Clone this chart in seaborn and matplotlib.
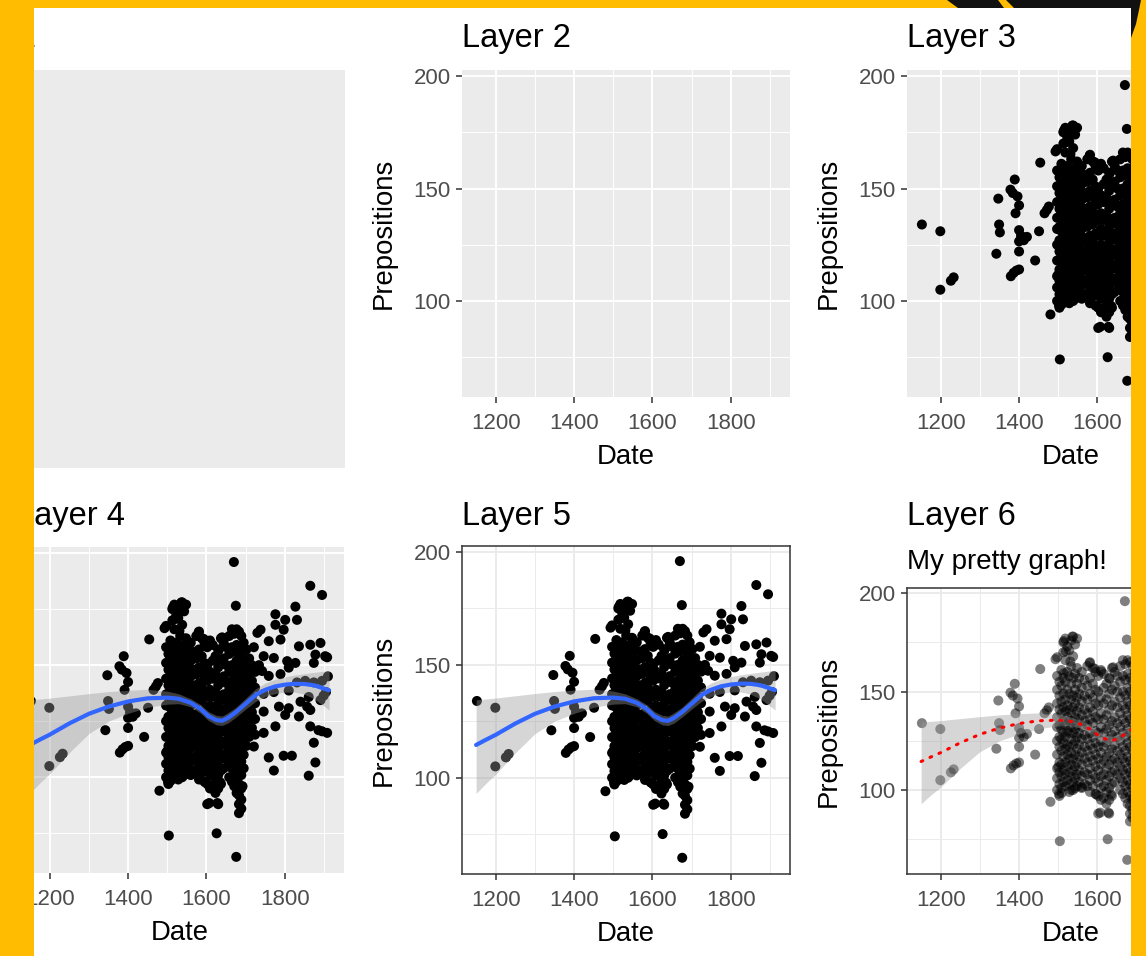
import numpy as np
import pandas as pd
import matplotlib.pyplot as plt
import seaborn as sns
from matplotlib.patches import Rectangle, Polygon

# %% ---------------------------------------------------------------
#    DATA
# ------------------------------------------------------------------
# sparse early texts, before the main block
left_dates = [1152, 1199, 1199, 1226, 1233, 1342, 1347, 1349, 1351, 1378, 1384, 1389, 1396, 1400,
              1391, 1400, 1405, 1412, 1420, 1400, 1400, 1379, 1386, 1393, 1400, 1441, 1451, 1454,
              1465, 1471, 1476, 1480]
left_preps = [134, 131, 105, 109, 110.5, 121, 145.5, 134, 130.5, 149.5, 148, 154, 146.5, 142.5,
              139, 131.5, 129, 127, 128.5, 126.5, 122, 111, 112.5, 113.5, 114, 118, 131, 161.5,
              139, 140.5, 142, 94]

# dense block 1495-1725, one column of values per date
dense_dates = [1497, 1503, 1508, 1513, 1518, 1523, 1528, 1533, 1538, 1543, 1548, 1553, 1560,
               1567, 1574, 1581, 1588, 1595, 1602, 1609, 1616, 1623, 1630, 1637, 1644, 1651,
               1658, 1665, 1671, 1677, 1683, 1689, 1695, 1702, 1709, 1716, 1724]
dense_preps = [
    [158, 151, 144, 137, 132, 125, 118, 111, 106, 100],
    [155, 148, 141, 133, 127, 122, 114, 109, 103, 97],
    [161, 153, 145, 139, 131, 126, 120, 113, 107, 101],
    [175, 170, 157, 149, 142, 135, 129, 124, 117, 110, 104],
    [177, 166, 155, 146, 140, 133, 127, 121, 114, 108, 102],
    [173, 160, 151, 143, 137, 130, 123, 118, 112, 105],
    [171, 158, 149, 141, 135, 129, 122, 116, 109, 103, 99],
    [176, 163, 154, 146, 139, 132, 126, 119, 113, 107, 100],
    [178, 168, 157, 148, 142, 135, 129, 123, 116, 110, 104],
    [174, 159, 151, 144, 137, 131, 125, 118, 112, 106, 101],
    [177, 162, 154, 147, 140, 133, 127, 121, 114, 108, 102],
    [157, 149, 142, 136, 129, 123, 117, 110, 104],
    [160, 152, 145, 138, 132, 126, 119, 113, 107, 101],
    [156, 148, 141, 135, 128, 122, 116, 109, 103],
    [163, 153, 146, 139, 133, 126, 120, 114, 108, 102],
    [165, 157, 149, 142, 136, 129, 123, 117, 111, 105, 99],
    [162, 154, 147, 140, 134, 127, 121, 115, 108, 102],
    [160, 151, 144, 137, 130, 124, 118, 112, 106, 98],
    [158, 150, 143, 136, 129, 122, 116, 110, 104, 97, 88],
    [161, 147, 139, 132, 125, 119, 113, 107, 101, 95],
    [159, 152, 144, 136, 129, 122, 115, 108, 102, 96],
    [154, 146, 138, 131, 124, 117, 111, 105, 99, 93],
    [157, 149, 141, 133, 126, 119, 113, 107, 101, 95, 88],
    [162, 151, 143, 135, 128, 121, 115, 109, 103, 97],
    [160, 153, 145, 137, 130, 123, 116, 110, 104],
    [158, 150, 142, 134, 127, 120, 114, 108],
    [163, 155, 147, 139, 132, 125, 118, 112, 106, 100],
    [166, 158, 150, 143, 136, 129, 122, 116, 110, 104, 98],
    [164, 156, 148, 141, 134, 127, 120, 114, 108, 102, 96],
    [166, 159, 152, 145, 138, 131, 124, 117, 111, 105, 99, 93],
    [165, 157, 150, 143, 136, 129, 122, 115, 109, 103, 97, 92, 88, 84],
    [163, 155, 148, 141, 134, 127, 120, 113, 107, 101, 95, 90, 86],
    [160, 152, 145, 138, 131, 124, 117, 110, 104],
    [157, 149, 142, 135, 128, 121, 114],
    [153, 146, 139, 132, 125, 118],
    [150, 143, 136, 129, 122],
    [147, 140, 133, 126, 119],
]

# outliers around the dense block
extra_dates = [1502, 1504, 1509, 1500, 1497, 1493, 1514, 1536, 1519, 1531, 1514, 1580, 1593,
               1610, 1640, 1631, 1607, 1628, 1626, 1670, 1675, 1676, 1538, 1560, 1597, 1635]
extra_preps = [98, 74, 98.5, 111.7, 167.5, 166.5, 175.7, 178, 170.5, 165.3, 159.4, 164.6, 161.7,
               160.2, 162.4, 156.6, 88.5, 88.5, 75, 196, 176.5, 64.5, 100, 101.5, 97.8, 97.8]

# later texts, after 1705
right_dates = [1865, 1895, 1827, 1776, 1801, 1831, 1797, 1776, 1738, 1730,
               1759, 1789, 1836, 1865, 1891, 1903, 1878, 1874,
               1746, 1772, 1806, 1827, 1742, 1759, 1789, 1810,
               1746, 1772, 1810, 1831, 1852, 1874, 1895, 1899,
               1785, 1810, 1840, 1857, 1746, 1801, 1836, 1776, 1865, 1895, 1908, 1874, 1746,
               1712, 1759, 1797, 1818,
               1772, 1878, 1861, 1717, 1713, 1721, 1692, 1721, 1734, 1910, 1905, 1886, 1891,
               1865, 1861, 1908]
right_preps = [185.4, 181.3, 176.1, 172.7, 170.2, 170.2, 165.8, 168, 165.8, 164.4,
               160.7, 161.4, 158.4, 159.1, 159.9, 154, 154.7, 151,
               154, 153.2, 151.8, 151, 147.4, 145.2, 146, 148.9,
               137.2, 138, 138.7, 142.3, 143, 142.3, 143, 136.4,
               131.5, 130.8, 133.7, 131.5, 129.3, 127.8, 127.1, 122.7, 122.7, 120.5, 119.8, 115.4,
               119.8, 122, 108.8, 109.6, 109.6,
               103, 106.6, 100.7, 140.3, 131.4, 113.7, 96, 158, 150, 145, 138, 121, 134.4,
               130, 135.8, 153.5]

# loess smoother and its confidence band
smooth_date = [1150, 1175, 1200, 1250, 1300, 1350, 1400, 1450, 1500, 1530, 1560, 1585, 1605,
               1625, 1640, 1655, 1675, 1700, 1725, 1750, 1775, 1800, 1825, 1850, 1875, 1913]
smooth_fit = [114.5, 116.8, 119, 124, 128.3, 131.5, 133.8, 135.2, 135.5, 135, 133.2, 130.5, 127.3,
              125.5, 125.2, 126.5, 129, 132.8, 136.6, 139, 140.5, 141.3, 141.7, 141.6, 141, 138.8]
smooth_lo = [93, 97.5, 101.5, 111, 119.5, 125, 128.5, 131.2, 132.6, 132.8, 131.4, 128.6, 125.3,
             123.4, 123.1, 124.2, 126.8, 130.4, 133.8, 136, 137.3, 138, 138, 137, 135, 130]
smooth_hi = [134.5, 134.9, 135.3, 136.3, 137.3, 138.2, 138.8, 139.2, 138.4, 137.2, 135, 132.4,
             129.3, 127.6, 127.3, 128.8, 131.2, 135.2, 139.4, 142, 143.7, 144.8, 145.6, 146.2,
             146.8, 147.6]

x_major = [1200, 1400, 1600, 1800]
x_minor = [1300, 1500, 1700, 1900]
y_major = [100, 150, 200]
y_minor = [75, 125, 175]

rows = [pd.DataFrame({"Date": left_dates, "Prepositions": left_preps}),
        pd.DataFrame({"Date": extra_dates, "Prepositions": extra_preps}),
        pd.DataFrame({"Date": right_dates, "Prepositions": right_preps})]
for d, col in zip(dense_dates, dense_preps):
    rows.append(pd.DataFrame({"Date": [d] * len(col), "Prepositions": col}))
df = pd.concat(rows, ignore_index=True)
smooth = pd.DataFrame({"Date": smooth_date, "fit": smooth_fit, "lo": smooth_lo, "hi": smooth_hi})

# %% ---------------------------------------------------------------
#    LAYOUT (pixel positions of the screenshot)
# ------------------------------------------------------------------
W, H = 1146, 956
XLIM = (1114, 1951)
YLIM = (57.3, 202.7)
YELLOW = '#FFBC00'


def box(l, t, r, b):
    return [l / W, 1 - b / H, (r - l) / W, (b - t) / H]


def px(x, y):
    return x / W, 1 - y / H


sns.set_theme(style='white')
plt.rcParams['font.family'] = ['Liberation Sans', 'DejaVu Sans']

fig = plt.figure(figsize=(W / 100, H / 100), dpi=100, facecolor=YELLOW)
fig.add_artist(Rectangle(px(34, 956), (1131 - 34) / W, (956 - 8) / H, transform=fig.transFigure,
                         facecolor='white', edgecolor='none', zorder=-5))


def style_axes(ax, theme, w_px, h_px):
    ax.set_xlim(XLIM)
    ax.set_ylim(YLIM)
    ax.set_xticks(x_major)
    ax.set_xticks(x_minor, minor=True)
    ax.set_yticks(y_major)
    ax.set_yticks(y_minor, minor=True)
    if theme == 'grey':
        ax.set_facecolor('#EBEBEB')
        gcol = 'white'
        for s in ax.spines.values():
            s.set_visible(False)
    else:
        ax.set_facecolor('white')
        gcol = '#EBEBEB'
        for s in ax.spines.values():
            s.set_visible(True)
            s.set_color('#333333')
            s.set_linewidth(1.1)
    ax.grid(which='major', color=gcol, linewidth=1.4)
    ax.grid(which='minor', color=gcol, linewidth=0.7)
    ax.set_axisbelow(True)
    ax.tick_params(which='major', length=4.5, width=1.1, color='#333333',
                   labelcolor='#4D4D4D', labelsize=16, left=True, bottom=True)
    ax.tick_params(axis='x', pad=7)
    ax.tick_params(axis='y', pad=3.5)
    ax.tick_params(which='minor', length=0)
    ax.set_xlabel('Date', fontsize=19.8, color='black')
    ax.set_ylabel('Prepositions', fontsize=19.8, color='black')
    ax.xaxis.set_label_coords(0.5, -47 / h_px)
    ax.yaxis.set_label_coords(-65 / w_px, 0.5)


def add_points(ax, alpha=1.0):
    sns.scatterplot(data=df, x='Date', y='Prepositions', ax=ax, color='black', s=52,
                    edgecolor='none', linewidth=0, alpha=alpha, legend=False, zorder=2)


def add_smooth(ax, color, dotted=False):
    ax.fill_between(smooth['Date'], smooth['lo'], smooth['hi'], color='#999999', alpha=0.4,
                    linewidth=0, zorder=3)
    if dotted:
        sns.lineplot(data=smooth, x='Date', y='fit', ax=ax, color=color, linewidth=2.2,
                     errorbar=None, zorder=4, linestyle=(0, (0.6, 2.6)),
                     dash_capstyle='round')
    else:
        sns.lineplot(data=smooth, x='Date', y='fit', ax=ax, color=color, linewidth=3,
                     errorbar=None, zorder=4)


# Layer 1: empty grey canvas
ax1 = fig.add_axes(box(-73, 70, 345, 468))
ax1.set_facecolor('#EBEBEB')
ax1.set_xticks([])
ax1.set_yticks([])
for s in ax1.spines.values():
    s.set_visible(False)

# Layer 2: axes only
ax2 = fig.add_axes(box(462, 70, 790, 397))
style_axes(ax2, 'grey', 328, 327)

# Layer 3: points
ax3 = fig.add_axes(box(907, 70, 1235, 397))
add_points(ax3)
style_axes(ax3, 'grey', 328, 327)

# Layer 4: points + smoother
ax4 = fig.add_axes(box(16, 547, 344, 873))
add_points(ax4)
add_smooth(ax4, '#3366FF')
style_axes(ax4, 'grey', 328, 326)

# Layer 5: theme_bw
ax5 = fig.add_axes(box(462, 546, 790, 874))
add_points(ax5)
add_smooth(ax5, '#3366FF')
style_axes(ax5, 'bw', 328, 328)

# Layer 6: translucent points, dotted red smoother, subtitle
ax6 = fig.add_axes(box(907, 588, 1235, 874))
add_points(ax6, alpha=0.5)
add_smooth(ax6, '#FF0000', dotted=True)
style_axes(ax6, 'bw', 328, 286)

titles = [("Layer 1", -73, 47), ("Layer 2", 462, 47), ("Layer 3", 907, 47),
          ("Layer 4", 16, 525), ("Layer 5", 462, 525), ("Layer 6", 907, 525)]
for txt, x, y in titles:
    fig.text(*px(x, y), txt, fontsize=23.5, ha='left', va='baseline', color='black')
fig.text(*px(907, 569), "My pretty graph!", fontsize=20, ha='left', va='baseline', color='black')

# yellow frame around the screenshot
for (x0, y0, w, h) in [(0, 0, 34, 956), (0, 0, 1146, 8), (1131, 0, 15, 956)]:
    fig.add_artist(Rectangle(px(x0, y0 + h), w / W, h / H, transform=fig.transFigure,
                             facecolor=YELLOW, edgecolor='none', zorder=5))
for pts in [[(947, 0), (998, 0), (1004, 8), (958, 8)],
            [(1006, 0), (1141, 0), (1139, 10), (1136, 24), (1131, 38), (1131, 8), (1014, 8)]]:
    fig.add_artist(Polygon([px(x, y) for x, y in pts], closed=True, transform=fig.transFigure,
                           facecolor='#111111', edgecolor='none', zorder=6))

fig.savefig('out.png', dpi=100, facecolor=YELLOW)
